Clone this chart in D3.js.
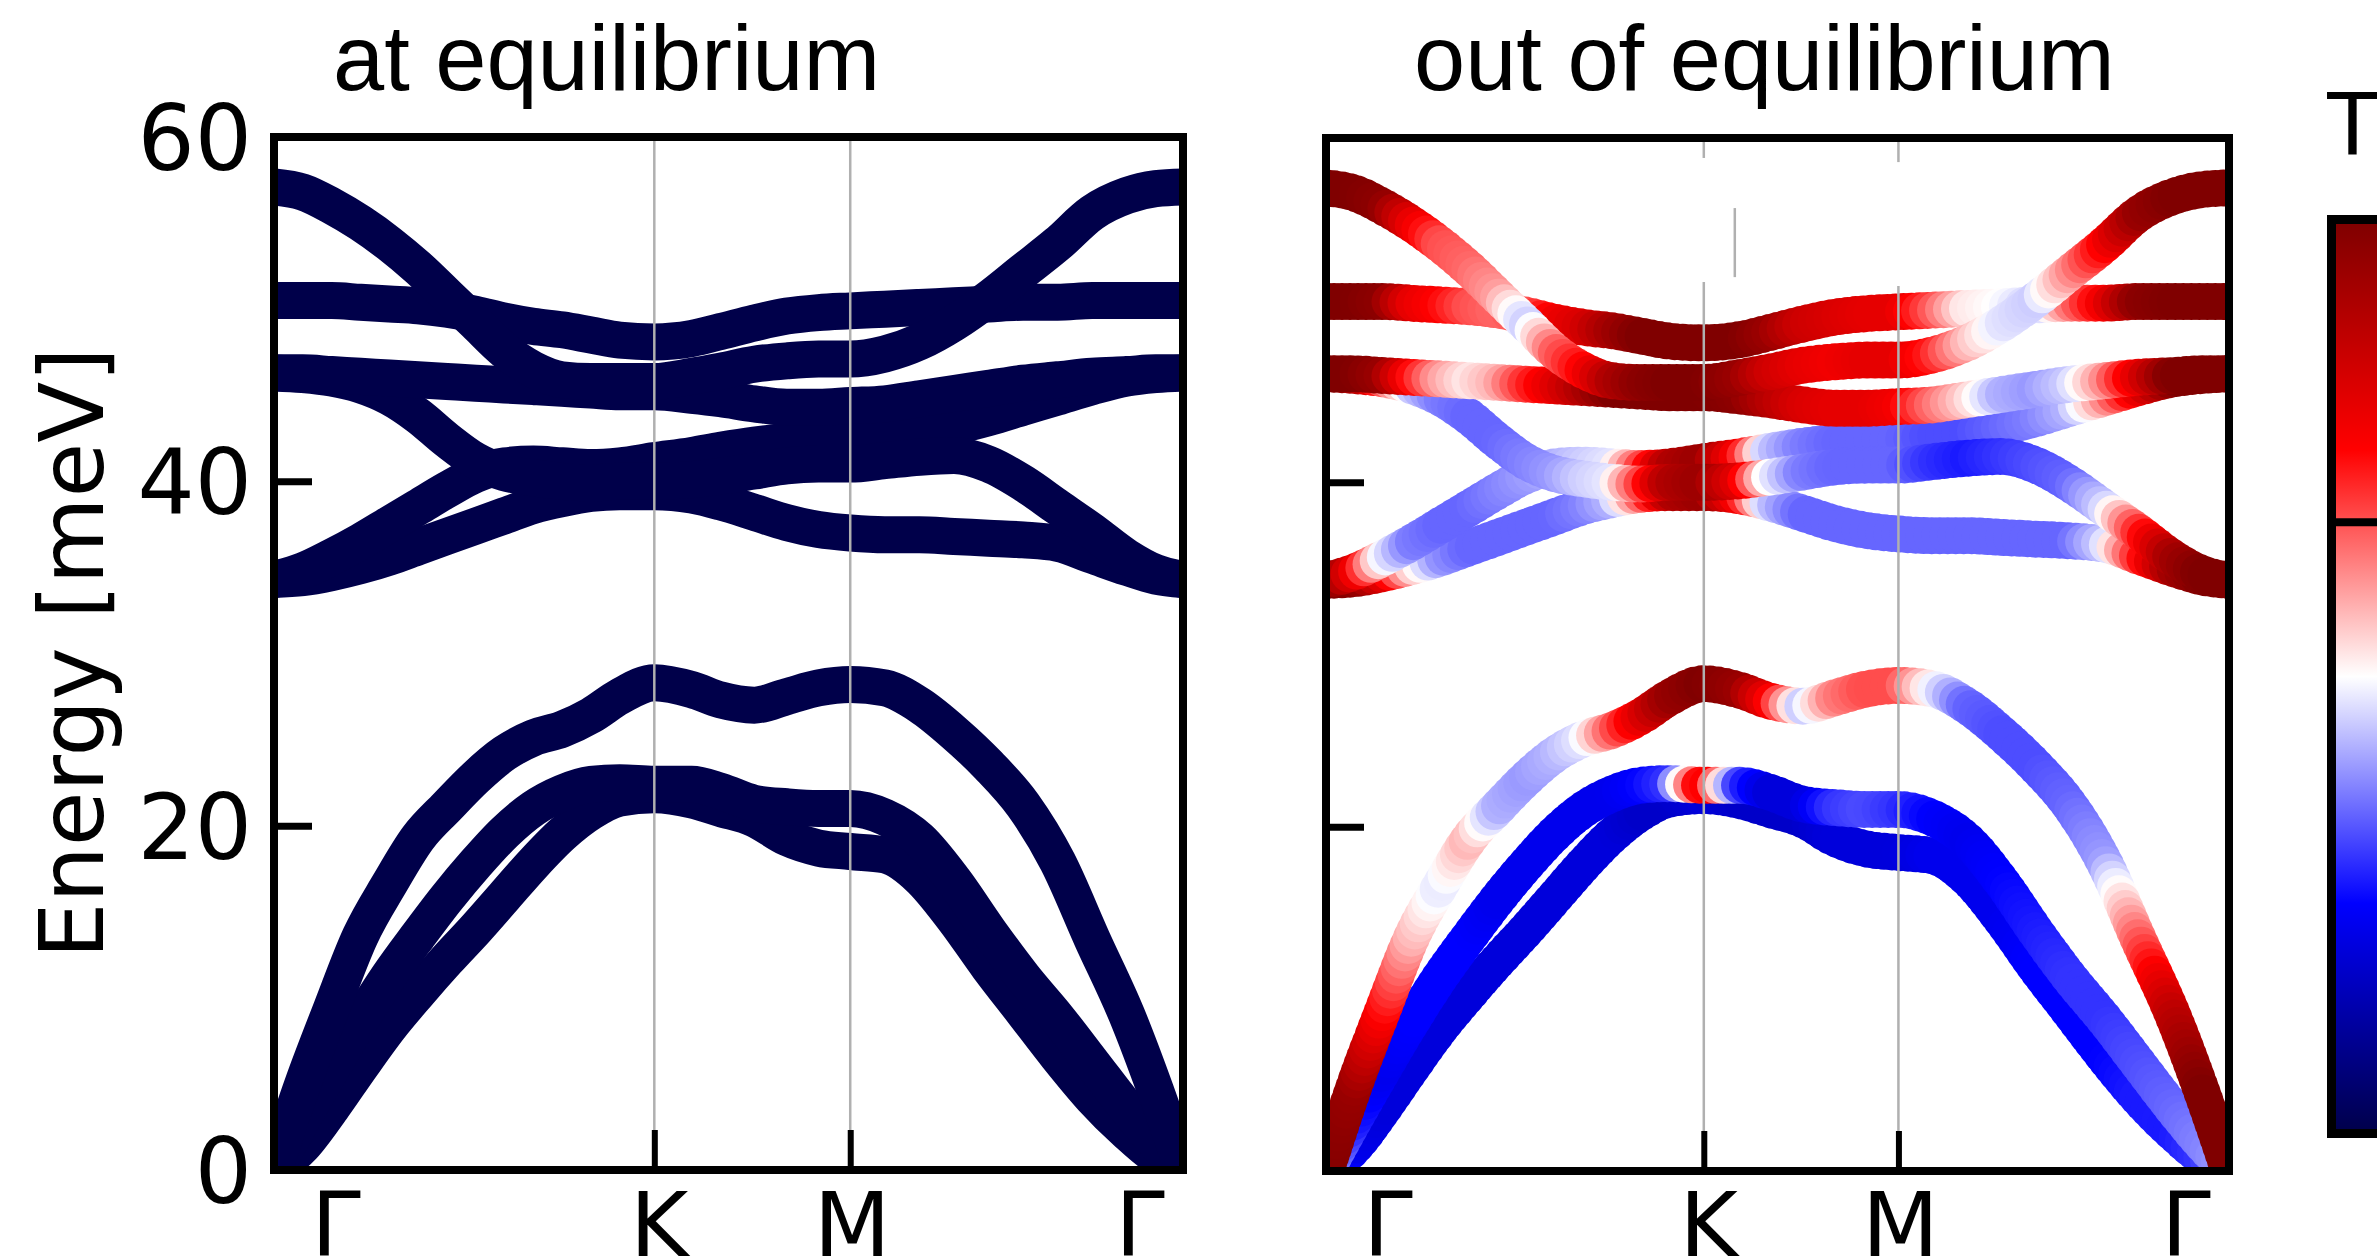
<!DOCTYPE html>
<html>
<head>
<meta charset="utf-8">
<script src="https://cdn.jsdelivr.net/npm/d3@7/dist/d3.min.js"></script>
<style>
  html, body { margin: 0; padding: 0; background: #ffffff; }
  svg { display: block; }
</style>
</head>
<body>
<svg id="chart" width="2377" height="1260"></svg>
<script>
// Path coordinate along the high-symmetry line Γ–K–M–Γ
const qPath = [0, 0.1, 0.2, 0.3, 0.4, 0.5, 0.6, 0.7, 0.8, 0.9, 1.0, 1.1, 1.2, 1.32,
               1.45, 1.55, 1.667, 1.78, 1.89, 2.0,
               2.12, 2.24, 2.36, 2.48, 2.6, 2.72, 2.84, 2.96, 3.06, 3.155];

// High-symmetry points
const symLabels = ["Γ", "K", "M", "Γ"];
const symPos = [0, 1.32, 2.0, 3.155];

// Energy axis ticks (meV)
const energyTicks = [0, 20, 40, 60];

// Phonon branch energies (meV) at each qPath point
const eZA = [0, 1.4, 3.6, 6.0, 8.3, 10.3, 12.2, 14.0, 15.9, 17.8, 19.5, 20.8, 21.6, 21.8, 21.5, 21.0, 20.4, 19.3, 18.7, 18.5, 18.3, 17.0, 14.6, 11.8, 9.2, 6.6, 4.2, 2.2, 0.8, 0];
const eTA = [0, 3.0, 5.9, 8.7, 11.3, 13.6, 15.8, 17.8, 19.6, 21.0, 21.9, 22.4, 22.5, 22.4, 22.4, 22.0, 21.3, 21.1, 21.0, 21.0, 20.5, 19.2, 16.8, 13.9, 11.2, 8.8, 6.2, 3.6, 1.6, 0];
const eLA = [0, 5.0, 9.4, 13.6, 16.6, 19.3, 21.1, 22.8, 24.2, 25.1, 25.6, 26.4, 27.5, 28.3, 27.9, 27.3, 27.0, 27.5, 28.0, 28.2, 28.0, 27.0, 25.4, 23.5, 21.2, 17.9, 13.4, 9.0, 4.6, 0];
const eO1 = [34.3, 34.4, 34.7, 35.1, 35.6, 36.2, 36.8, 37.4, 38.0, 38.6, 39.0, 39.3, 39.4, 39.4, 39.2, 38.8, 38.2, 37.6, 37.2, 37.0, 36.9, 36.9, 36.8, 36.7, 36.6, 36.4, 35.7, 35.0, 34.5, 34.3];
const eO2 = [34.3, 34.8, 35.6, 36.5, 37.5, 38.5, 39.5, 40.4, 40.9, 41.0, 40.9, 40.8, 40.9, 41.2, 41.5, 41.8, 42.1, 42.3, 42.4, 42.5, 42.7, 42.9, 43.2, 43.7, 44.3, 44.9, 45.5, 46.0, 46.2, 46.3];
const eO3 = [46.3, 46.2, 46.0, 45.6, 44.9, 43.8, 42.4, 41.2, 40.5, 40.2, 40.0, 39.9, 40.0, 40.0, 40.1, 40.3, 40.6, 40.9, 41.0, 41.0, 41.2, 41.4, 41.5, 41.0, 39.9, 38.5, 37.1, 35.6, 34.7, 34.3];
const eO4 = [46.3, 46.3, 46.2, 46.1, 46.0, 45.9, 45.8, 45.7, 45.6, 45.5, 45.4, 45.3, 45.2, 45.2, 45.0, 44.8, 44.5, 44.3, 44.3, 44.4, 44.5, 44.8, 45.1, 45.4, 45.7, 45.9, 46.1, 46.2, 46.3, 46.3];
const eO5 = [50.5, 50.5, 50.5, 50.4, 50.3, 50.2, 50.0, 49.7, 49.3, 49.0, 48.8, 48.5, 48.2, 48.1, 48.3, 48.7, 49.2, 49.6, 49.8, 49.9, 50.0, 50.1, 50.2, 50.3, 50.4, 50.4, 50.5, 50.5, 50.5, 50.5];
const eO6 = [57.1, 56.8, 56.0, 55.0, 53.8, 52.4, 50.8, 49.2, 47.6, 46.5, 45.9, 45.8, 45.8, 45.8, 46.1, 46.4, 46.8, 47.0, 47.1, 47.1, 47.4, 48.1, 49.2, 50.6, 52.2, 53.8, 55.6, 56.6, 57.0, 57.1];

// Normalised mode temperature (-1 cold ... +1 hot) out of equilibrium, at each qPath point
const wZA = [-0.3, -0.55, -0.6, -0.6, -0.6, -0.6, -0.6, -0.6, -0.6, -0.6, -0.6, -0.65, -0.65, -0.6, -0.65, -0.65, -0.65, -0.6, -0.6, -0.6, -0.55, -0.55, -0.55, -0.5, -0.5, -0.5, -0.45, -0.45, -0.4, -0.3];
const wTA = [-0.2, -0.45, -0.55, -0.5, -0.5, -0.5, -0.55, -0.55, -0.55, -0.55, -0.55, -0.5, -0.4, 0.6, -0.4, -0.6, -0.6, -0.4, -0.35, -0.4, -0.5, -0.55, -0.5, -0.45, -0.4, -0.4, -0.35, -0.3, -0.25, -0.2];
const wLA = [1.0, 0.9, 0.5, 0.15, -0.05, 0.15, -0.15, -0.2, -0.15, -0.05, 0.3, 0.6, 0.9, 1.0, 0.9, 0.55, -0.1, 0.25, 0.35, 0.35, 0.0, -0.3, -0.35, -0.35, -0.3, -0.2, 0.3, 0.75, 1.0, 1.0];
const wO1 = [1.0, 0.95, 0.6, 0.1, -0.2, -0.3, -0.3, -0.3, -0.3, -0.25, -0.15, 0.3, 0.8, 0.9, 0.5, -0.1, -0.3, -0.3, -0.3, -0.3, -0.3, -0.3, -0.3, -0.3, -0.3, -0.1, 0.4, 0.85, 1.0, 1.0];
const wO2 = [1.0, 0.6, 0.0, -0.25, -0.3, -0.3, -0.25, -0.2, -0.15, -0.1, -0.05, 0.35, 0.8, 0.9, 0.5, -0.1, -0.25, -0.3, -0.3, -0.3, -0.35, -0.35, -0.3, -0.25, -0.15, 0.2, 0.6, 1.0, 1.0, 1.0];
const wO3 = [1.0, 0.8, 0.3, -0.1, -0.25, -0.3, -0.3, -0.25, -0.2, -0.1, -0.05, 0.35, 0.8, 0.9, 0.6, 0.0, -0.25, -0.3, -0.3, -0.3, -0.4, -0.45, -0.4, -0.35, -0.3, -0.1, 0.4, 0.85, 1.0, 1.0];
const wO4 = [1.0, 1.0, 0.9, 0.5, 0.2, 0.05, 0.15, 0.4, 0.6, 0.8, 1.0, 1.0, 1.0, 1.0, 0.95, 0.8, 0.65, 0.6, 0.6, 0.55, 0.3, 0.1, -0.15, -0.2, -0.1, 0.2, 0.6, 1.0, 1.0, 1.0];
const wO5 = [1.0, 1.0, 0.95, 0.6, 0.5, 0.35, 0.3, 0.35, 0.55, 0.65, 0.85, 1.0, 1.0, 1.0, 1.0, 0.9, 0.7, 0.65, 0.6, 0.6, 0.35, 0.05, 0.0, -0.1, 0.25, 0.55, 0.95, 1.0, 1.0, 1.0];
const wO6 = [1.0, 1.0, 0.95, 0.6, 0.35, 0.3, 0.2, -0.1, 0.3, 0.5, 0.8, 0.95, 1.0, 1.0, 0.9, 0.7, 0.6, 0.55, 0.6, 0.6, 0.45, 0.15, -0.05, -0.1, 0.2, 0.5, 0.9, 1.0, 1.0, 1.0];

// Colour-bar marker value
const cbMarker = 0.34;

const branches = [
  { e: eZA, w: wZA }, { e: eTA, w: wTA }, { e: eLA, w: wLA },
  { e: eO1, w: wO1 }, { e: eO2, w: wO2 }, { e: eO3, w: wO3 },
  { e: eO4, w: wO4 }, { e: eO5, w: wO5 }, { e: eO6, w: wO6 }
].map(b => ({ pts: qPath.map((q, i) => [q, b.e[i]]), w: b.w }));

// Layout
const panels = [
  { id: "eq",  x0: 274,  x1: 1183, y0: 137, y1: 1170, title: "at equilibrium",     titleX: 333,  colored: false, labels: true },
  { id: "neq", x0: 1326, x1: 2229, y0: 138, y1: 1171, title: "out of equilibrium", titleX: 1414, colored: true,  labels: false }
];
const symNudge = [62, 5, 2, -43];
const NAVY = "#00004a";
const BAND_W = 37;

const seismic = d3.scaleLinear()
  .domain([-1, -0.5, 0, 0.5, 1])
  .range(["#00004c", "#0000ff", "#ffffff", "#ff0000", "#800000"])
  .clamp(true);

const svg = d3.select("#chart");
svg.append("rect").attr("width", 2377).attr("height", 1260).attr("fill", "#fff");
const defs = svg.append("defs");

panels.forEach(p => {
  const x = d3.scaleLinear().domain([0, 3.155]).range([p.x0, p.x1]);
  const y = d3.scaleLinear().domain([0, 60]).range([p.y1, p.y0]);
  const line = d3.line().x(d => x(d[0])).y(d => y(d[1])).curve(d3.curveMonotoneX);

  defs.append("clipPath").attr("id", "clip-" + p.id)
    .append("rect").attr("x", p.x0).attr("y", p.y0)
    .attr("width", p.x1 - p.x0).attr("height", p.y1 - p.y0);

  const g = svg.append("g");
  const plot = g.append("g").attr("clip-path", `url(#clip-${p.id})`);

  if (!p.colored) {
    plot.selectAll("path.band").data(branches).join("path")
      .attr("class", "band")
      .attr("d", b => line(b.pts))
      .attr("fill", "none")
      .attr("stroke", NAVY)
      .attr("stroke-width", BAND_W)
      .attr("stroke-linejoin", "round")
      .attr("stroke-linecap", "round");
  } else {
    // each branch is painted as a chain of overlapping discs coloured by mode temperature
    branches.forEach(b => {
      const wScale = d3.scaleLinear().domain(qPath).range(b.w).clamp(true);
      const probe = svg.append("path").attr("d", line(b.pts)).attr("fill", "none").attr("visibility", "hidden");
      const node = probe.node();
      const L = node.getTotalLength();
      const stops = d3.range(0, L, 8).concat([L]);
      const discs = stops.map(s => {
        const pt = node.getPointAtLength(s);
        return { cx: pt.x, cy: pt.y, c: seismic(wScale(x.invert(pt.x))) };
      });
      probe.remove();
      plot.append("g").selectAll("circle").data(discs).join("circle")
        .attr("cx", d => d.cx).attr("cy", d => d.cy)
        .attr("r", BAND_W / 2)
        .attr("fill", d => d.c);
    });
  }

  // vertical guides at K and M
  const guides = g.append("g").attr("stroke", "#b0b0b0").attr("stroke-width", 2.5);
  [symPos[1], symPos[2]].forEach((q, i) => {
    if (!p.colored) {
      guides.append("line").attr("x1", x(q)).attr("x2", x(q)).attr("y1", p.y0).attr("y2", p.y1);
    } else {
      const top = i === 0 ? 58.84 : 58.6;
      const resume = i === 0 ? 51.63 : 51.4;
      guides.append("line").attr("x1", x(q)).attr("x2", x(q)).attr("y1", p.y0).attr("y2", y(top));
      guides.append("line").attr("x1", x(q)).attr("x2", x(q)).attr("y1", y(resume)).attr("y2", p.y1);
      if (i === 0) {
        guides.append("line").attr("x1", x(q) + 31).attr("x2", x(q) + 31)
          .attr("y1", y(55.93)).attr("y2", y(51.92));
      }
    }
  });

  // y ticks
  const yAxis = d3.axisLeft(y).tickValues(energyTicks).tickSize(-38).tickPadding(22)
    .tickFormat(p.labels ? d3.format("d") : () => "");
  const ya = g.append("g").attr("transform", `translate(${p.x0},0)`).call(yAxis);
  ya.select(".domain").remove();
  ya.selectAll(".tick line").attr("stroke", "#000").attr("stroke-width", 7);
  ya.selectAll(".tick text")
    .attr("font-family", "'DejaVu Sans', sans-serif")
    .attr("font-size", 90).attr("fill", "#000").attr("dy", "0.36em");

  // x ticks at K and M
  const xAxis = d3.axisBottom(x).tickValues([symPos[1], symPos[2]]).tickSize(-40).tickFormat(() => "");
  const xa = g.append("g").attr("transform", `translate(0,${p.y1})`).call(xAxis);
  xa.select(".domain").remove();
  xa.selectAll(".tick line").attr("stroke", "#000").attr("stroke-width", 6);

  // symmetry-point labels
  g.append("g").selectAll("text").data(symLabels).join("text")
    .attr("x", (d, i) => x(symPos[i]) + symNudge[i])
    .attr("y", 1256)
    .attr("text-anchor", "middle")
    .attr("font-family", "'DejaVu Sans', sans-serif")
    .attr("font-size", 89)
    .attr("fill", "#000")
    .text(d => d);

  // frame
  g.append("rect").attr("x", p.x0).attr("y", p.y0)
    .attr("width", p.x1 - p.x0).attr("height", p.y1 - p.y0)
    .attr("fill", "none").attr("stroke", "#000").attr("stroke-width", 8);

  // title
  svg.append("text").attr("x", p.titleX).attr("y", 90)
    .attr("font-family", "'Liberation Sans', Arial, Helvetica, sans-serif")
    .attr("font-size", 92).attr("fill", "#000")
    .text(p.title);
});

// energy axis title
svg.append("text")
  .attr("transform", "translate(103,653) rotate(-90)")
  .attr("text-anchor", "middle")
  .attr("font-family", "'DejaVu Sans', sans-serif")
  .attr("font-size", 89).attr("fill", "#000")
  .text("Energy [meV]");

// colour bar
const cbY = d3.scaleLinear().domain([-1, 1]).range([1130, 223]);
const grad = defs.append("linearGradient").attr("id", "cbGrad")
  .attr("gradientUnits", "userSpaceOnUse")
  .attr("x1", 0).attr("x2", 0).attr("y1", cbY(1)).attr("y2", cbY(-1));
[1, 0.5, 0, -0.5, -1].forEach(v => {
  grad.append("stop").attr("offset", (1 - v) / 2).attr("stop-color", seismic(v));
});
svg.append("rect")
  .attr("x", 2331.5).attr("y", cbY(1) - 3.5)
  .attr("width", 120).attr("height", cbY(-1) - cbY(1) + 7)
  .attr("fill", "url(#cbGrad)")
  .attr("stroke", "#000").attr("stroke-width", 9);
svg.append("line")
  .attr("x1", 2327).attr("x2", 2377)
  .attr("y1", cbY(cbMarker)).attr("y2", cbY(cbMarker))
  .attr("stroke", "#000").attr("stroke-width", 8);
svg.append("text").attr("x", 2325).attr("y", 155)
  .attr("font-family", "'Liberation Sans', Arial, Helvetica, sans-serif")
  .attr("font-size", 90).attr("fill", "#000")
  .text("T");
</script>
</body>
</html>
